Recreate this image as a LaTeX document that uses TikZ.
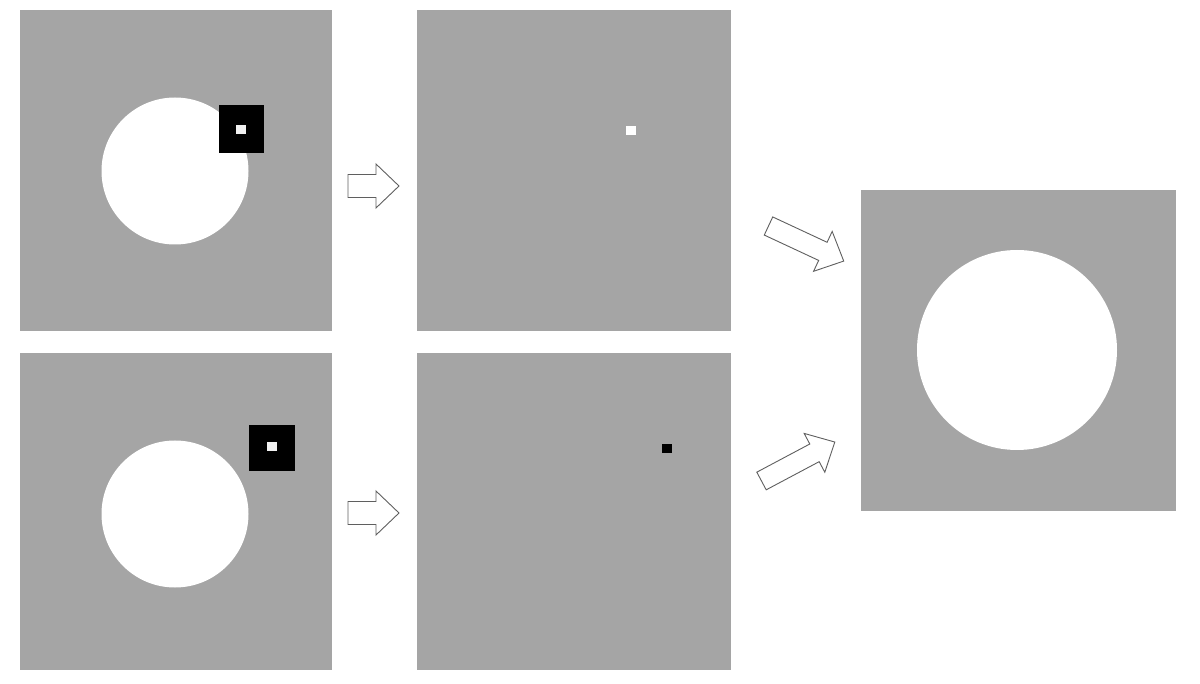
\documentclass[tikz,border=0pt]{standalone}
\usepackage{tikz}
\definecolor{panelgray}{RGB}{165,165,165}
\definecolor{arrowgray}{RGB}{95,95,95}
\tikzset{
  panel/.style={fill=panelgray},
  disc/.style={fill=white},
  mask/.style={fill=black},
  arrowline/.style={draw=arrowgray, fill=white, line width=0.9pt, line join=miter},
  % block arrow: length, shaft half width, head half width, head length
  pics/blockarrow/.style n args={4}{code={
    \draw[arrowline] (0,-#2) -- (#1-#4,-#2) -- (#1-#4,-#3) -- (#1,0)
      -- (#1-#4,#3) -- (#1-#4,#2) -- (0,#2) -- cycle;
  }}
}
\newcommand{\spot}[3]{\fill[#3] (#1-5,#2-4.5) rectangle (#1+5,#2+4.5);}

\begin{document}
\begin{tikzpicture}[x=1pt,y=-1pt]
  \useasboundingbox (0,0) rectangle (1200,684);
  % input images
  \fill[panel] (20,10) rectangle (332,331);
  \fill[disc] (175,171) circle (73.5);
  \fill[mask] (219,105) rectangle (264,153);
  \spot{241}{130}{white!85!panelgray}
  \fill[panel] (20,353) rectangle (332,670);
  \fill[disc] (175,514) circle (73.5);
  \fill[mask] (249,425) rectangle (295,471);
  \spot{272}{447}{white!85!panelgray}
  % filtered images
  \fill[panel] (417,10) rectangle (731,331);
  \spot{631}{131}{white}
  \fill[panel] (417,353) rectangle (731,670);
  \spot{667}{449}{black}
  % result
  \fill[panel] (861,190) rectangle (1176,511);
  \fill[disc] (1017,350) circle (100);
  % arrows
  \pic (arrTop) at (348,186) {blockarrow={51}{11.5}{22}{23}};
  \pic (arrBot) at (348,513) {blockarrow={51}{11.5}{22}{23}};
  \pic[rotate=-25] (arrUp) at (768.5,226) {blockarrow={83}{10}{22}{23}};
  \pic[rotate=28] (arrDown) at (761.5,481) {blockarrow={83}{10}{22}{23}};
\end{tikzpicture}
\end{document}
